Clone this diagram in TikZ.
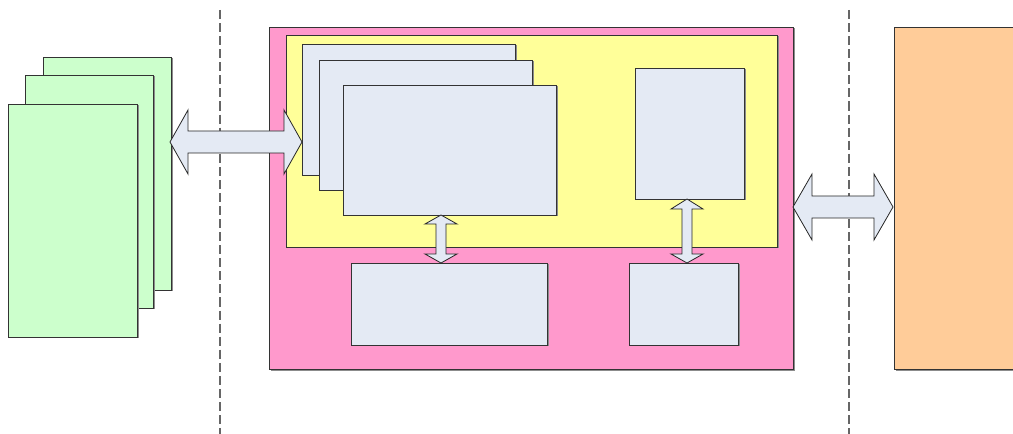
\documentclass[tikz,border=0pt]{standalone}
\begin{document}
\begin{tikzpicture}[x=0.75pt,y=-0.75pt,
  box/.style={draw=black!80,line width=0.6pt},
  shad/.style={fill=black!45,draw=none},
  arr/.style={draw=black!85,fill=boxblue,line width=0.6pt,line join=miter},
  sep/.style={draw=black!60,dash pattern=on 6.8pt off 3pt,line width=0.9pt}]
\definecolor{greenbox}{HTML}{CCFFCC}
\definecolor{pinkbox}{HTML}{FF99CC}
\definecolor{yellowbox}{HTML}{FFFF99}
\definecolor{boxblue}{HTML}{E4EAF4}
\definecolor{orangebox}{HTML}{FFCC99}
\useasboundingbox (0,0) rectangle (1013,434);
% separators
\draw[sep] (220,10) -- (220,434);
\draw[sep] (849,10) -- (849,434);
% green stack
\foreach \a/\b/\c/\d in {43/57/171/290, 25/75/153/308, 8/104/137/337}{
  \fill[shad] (\a+1.5,\b+1.5) rectangle (\c+1.5,\d+1.5);
  \draw[box,fill=greenbox] (\a,\b) rectangle (\c,\d);
}
% pink container
\fill[shad] (270.5,28.5) rectangle (794.5,370.5);
\draw[box,fill=pinkbox] (269,27) rectangle (793,369);
\fill[shad] (287.5,36.5) rectangle (778.5,248.5);
\draw[box,fill=yellowbox] (286,35) rectangle (777,247);
\foreach \a/\b/\c/\d in {302/44/515/175, 319/60/532/190, 343/85/556/215, 635/68/744/199, 351/263/547/345, 629/263/738/345}{
  \fill[shad] (\a+1.5,\b+1.5) rectangle (\c+1.5,\d+1.5);
  \draw[box,fill=boxblue] (\a,\b) rectangle (\c,\d);
}
% orange
\fill[shad] (895.5,28.5) rectangle (1015,370.5);
\draw[box,fill=orangebox] (894,27) rectangle (1015,369);
% left double arrow
\draw[arr] (170,142) -- (188,110) -- (188,131) -- (284,131) -- (284,110) -- (302,142)
  -- (284,174) -- (284,153) -- (188,153) -- (188,174) -- cycle;
% right double arrow
\draw[arr] (793,207) -- (812,174) -- (812,196) -- (874,196) -- (874,174) -- (893,207)
  -- (874,240) -- (874,218) -- (812,218) -- (812,240) -- cycle;
% vertical arrow 1
\draw[arr] (441,215) -- (457,224) -- (446,224) -- (446,254) -- (457,254) -- (441,263)
  -- (425,254) -- (436,254) -- (436,224) -- (425,224) -- cycle;
% vertical arrow 2
\draw[arr] (687,199) -- (703,209) -- (692,209) -- (692,254) -- (703,254) -- (687,263)
  -- (671,254) -- (682,254) -- (682,209) -- (671,209) -- cycle;
\end{tikzpicture}
\end{document}
